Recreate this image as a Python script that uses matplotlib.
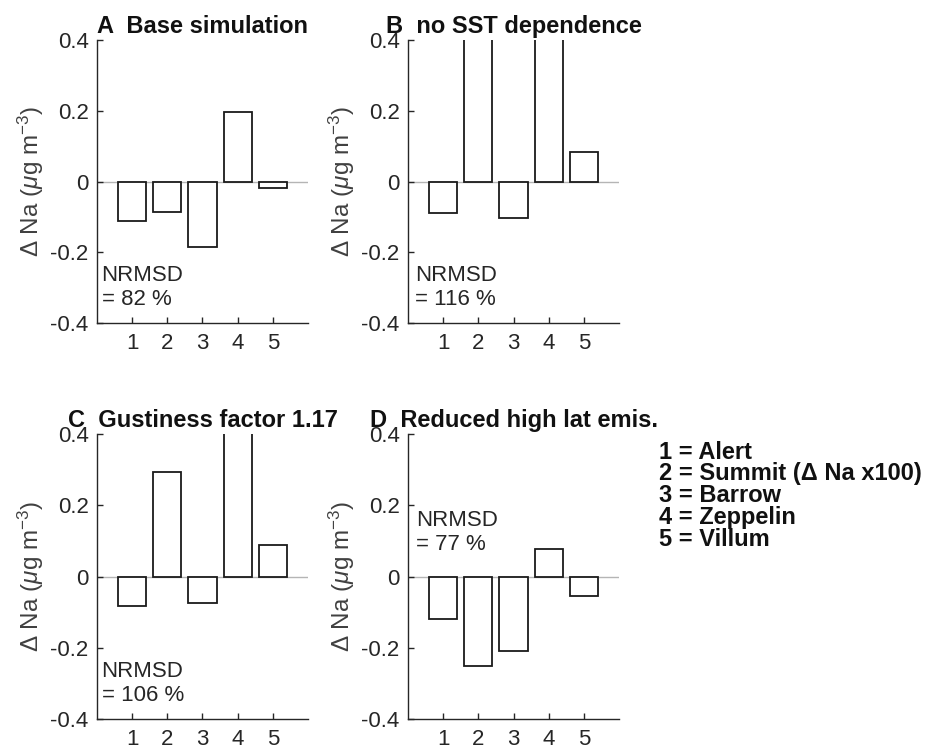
import matplotlib
matplotlib.use("Agg")
from matplotlib import pyplot as plt

plt.rcParams['font.family'] = ['Liberation Sans', 'DejaVu Sans']
plt.rcParams['mathtext.fontset'] = 'custom'
plt.rcParams['mathtext.rm'] = 'Liberation Sans'
plt.rcParams['mathtext.it'] = 'Liberation Sans:italic'
plt.rcParams['mathtext.bf'] = 'Liberation Sans:bold'

# Data (values above 0.4 are clipped in the original)
stations = [1, 2, 3, 4, 5]
base = [-0.112, -0.086, -0.184, 0.197, -0.019]
no_sst = [-0.090, 0.60, -0.102, 0.60, 0.084]
gustiness = [-0.081, 0.293, -0.074, 0.60, 0.089]
reduced = [-0.120, -0.250, -0.210, 0.078, -0.053]

titles = ["A  Base simulation", "B  no SST dependence",
          "C  Gustiness factor 1.17", "D  Reduced high lat emis."]
nrmsd = [82, 116, 106, 77]
legend_lines = ["1 = Alert", "2 = Summit (\u0394 Na x100)", "3 = Barrow",
                "4 = Zeppelin", "5 = Villum"]
yticks = [-0.4, -0.2, 0, 0.2, 0.4]
yticklabels = ["-0.4", "-0.2", "0", "0.2", "0.4"]

series = [base, no_sst, gustiness, reduced]

# axes boxes in figure fractions [left, bottom, width, height]
boxes = [[0.1045, 0.567, 0.2274, 0.3794],
         [0.4397, 0.567, 0.2274, 0.3794],
         [0.1045, 0.036, 0.2274, 0.382],
         [0.4397, 0.036, 0.2274, 0.382]]
# where the NRMSD note sits (axes fraction, top of text)
note_pos = [(0.022, 0.205), (0.033, 0.205), (0.022, 0.205), (0.04, 0.735)]

dark = '#262626'
fig = plt.figure(figsize=(9.28, 7.46), dpi=100)

for i in range(4):
    ax = fig.add_axes(boxes[i])
    ax.axhline(0, color='#b5b5b5', lw=1.0, zorder=1)
    ax.bar(stations, series[i], width=0.8, facecolor='white',
           edgecolor='#1a1a1a', linewidth=1.3, zorder=2)
    ax.set_xlim(0, 6)
    ax.set_ylim(-0.4, 0.4)
    ax.set_xticks(stations)
    ax.set_yticks(yticks)
    ax.set_yticklabels(yticklabels)
    ax.spines['top'].set_visible(False)
    ax.spines['right'].set_visible(False)
    for s in ['left', 'bottom']:
        ax.spines[s].set_color(dark)
        ax.spines[s].set_linewidth(1.0)
    ax.tick_params(direction='in', length=4, width=1.0, color=dark,
                   labelcolor=dark, labelsize=16)
    ax.tick_params(axis='x', pad=7)
    ax.tick_params(axis='y', pad=6)
    ax.set_ylabel(r'Δ Na ($\mu$g m$^{-3}$)', fontsize=17.5, color='#404040',
                  labelpad=3)
    ax.set_title(titles[i], fontsize=17, fontweight='bold', pad=5,
                 color='#111111')
    nx, ny = note_pos[i]
    ax.text(nx, ny, "NRMSD\n= %d %%" % nrmsd[i], transform=ax.transAxes,
            fontsize=16, color=dark, va='top', ha='left', linespacing=1.2)

for k, line in enumerate(legend_lines):
    fig.text(0.710, 0.394 - k * 0.0292, line, fontsize=17, fontweight='bold',
             color='#111111', va='center', ha='left')

fig.savefig("out.png", dpi=100)
